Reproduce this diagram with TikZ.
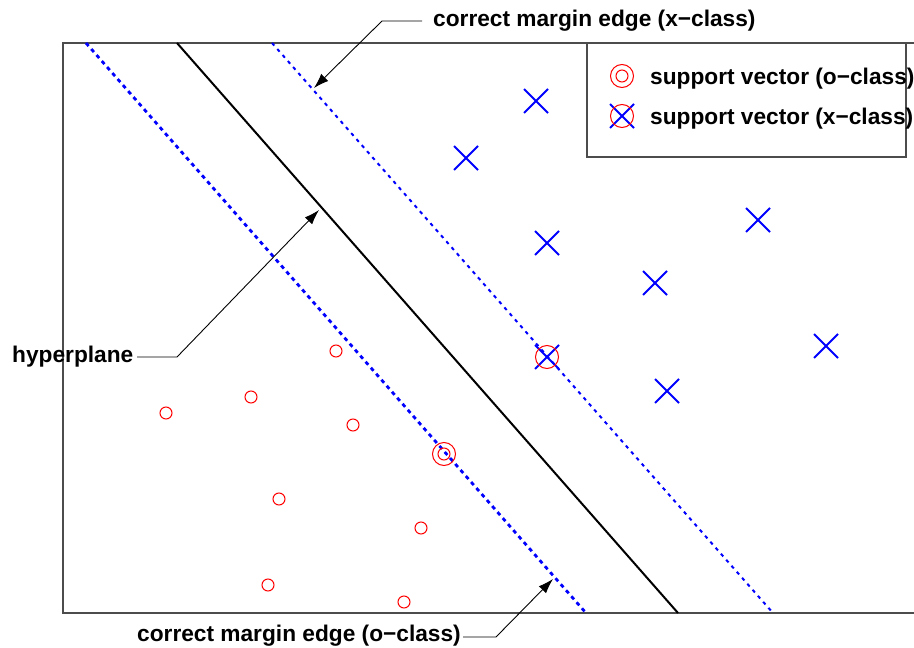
\documentclass[tikz,border=0pt]{standalone}
\usepackage{fontspec}
\setmainfont{Liberation Sans}
\usetikzlibrary{arrows.meta,shapes.misc}
\begin{document}
\begin{tikzpicture}[x=1pt,y=-1pt,
  lbl/.style={font=\fontsize{22.7}{26}\selectfont\bfseries, inner sep=0pt, anchor=west},
  frame/.style={draw=black!70, line width=1.3pt},
  hyper/.style={line width=2pt},
  marginA/.style={blue, line width=2.8pt, dash pattern=on 4pt off 4pt},
  marginB/.style={blue, line width=2pt, dash pattern=on 3.5pt off 4.5pt},
  opt/.style={circle, draw=red, line width=1pt, minimum size=12pt, inner sep=0pt},
  xpt/.style={cross out, draw=blue, line width=2pt, minimum size=22pt, inner sep=0pt},
  svring/.style={circle, draw=red, line width=1pt, minimum size=23pt, inner sep=0pt},
  lead/.style={line width=0.9pt},
  ptr/.style={lead, -{Latex[length=15pt,width=10pt]}}
]
\useasboundingbox (0,0) rectangle (914,648);
% frame
\draw[frame] (920,43) -- (63,43) -- (63,613) -- (920,613);
% legend box
\draw[frame] (587,43) rectangle (906,157);
% lines
\coordinate (a1) at (86,43);  \coordinate (a2) at (586,613);
\coordinate (h1) at (177,43); \coordinate (h2) at (678,613);
\coordinate (b1) at (272,43); \coordinate (b2) at (773,613);
\draw[marginA] (a1) -- (a2);
\draw[hyper] (h1) -- (h2);
\draw[marginB] (b1) -- (b2);
% x-class points
\node[xpt] (x1) at (536,101) {};
\node[xpt] (x2) at (466,158) {};
\node[xpt] (x3) at (547,243) {};
\node[xpt] (x4) at (758,220) {};
\node[xpt] (x5) at (655,283) {};
\node[xpt] (x6) at (826,346) {};
\node[xpt] (x7) at (667,391) {};
\node[xpt] (xs) at (547,357) {};
\node[svring] (xsr) at (xs) {};
% o-class points
\node[opt] (o1) at (336,351) {};
\node[opt] (o2) at (251,397) {};
\node[opt] (o3) at (166,413) {};
\node[opt] (o4) at (353,425) {};
\node[opt] (o5) at (279,499) {};
\node[opt] (o6) at (421,528) {};
\node[opt] (o7) at (268,585) {};
\node[opt] (o8) at (404,602) {};
\node[opt] (os) at (444,454) {};
\node[svring] (osr) at (os) {};
% legend
\node[opt] (lo) at (622,76) {};
\node[svring] (lor) at (lo) {};
\node[lbl] (lot) at (650,79) {support vector (o−class)};
\node[xpt] (lx) at (622,116) {};
\node[svring] (lxr) at (lx) {};
\node[lbl] (lxt) at (650,119) {support vector (x−class)};
% annotations
\node[lbl] (xlab) at (433,21) {correct margin edge (x−class)};
\node[lbl] (hlab) at (12,357) {hyperplane};
\node[lbl] (olab) at (137,636) {correct margin edge (o−class)};
\coordinate (xs1) at (422,21); \coordinate (xk) at (382,21);
\coordinate (hs1) at (137,357); \coordinate (hk) at (177,357);
\coordinate (os1) at (463,637); \coordinate (ok) at (496,637);
\coordinate (tx) at (314,88);
\coordinate (th) at (319,210);
\coordinate (to) at (553,579);
\draw[ptr] (xs1) -- (xk) -- (tx);
\draw[ptr] (hs1) -- (hk) -- (th);
\draw[ptr] (os1) -- (ok) -- (to);
\end{tikzpicture}
\end{document}
